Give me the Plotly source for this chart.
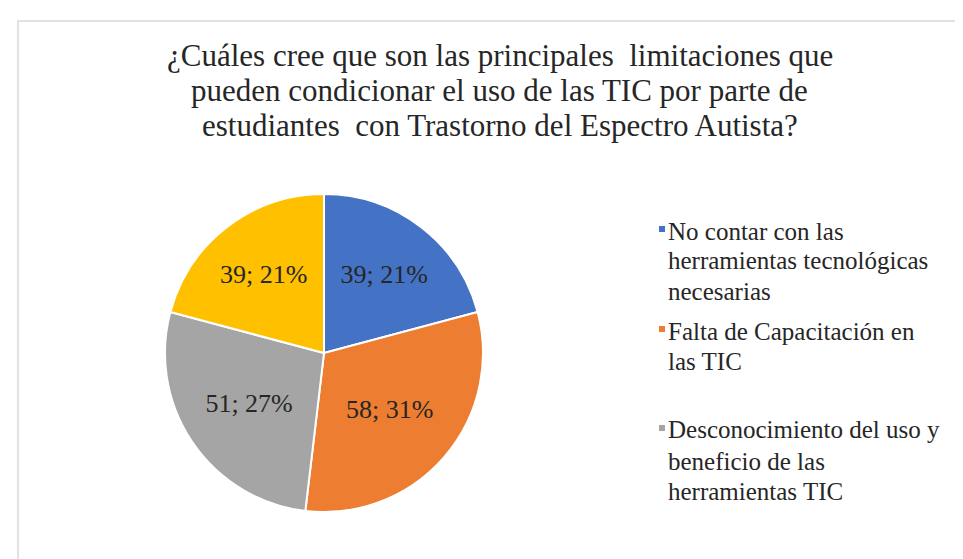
import plotly.graph_objects as go

categories = [
    "No contar con las<br>herramientas tecnológicas<br>necesarias",
    "Falta de Capacitación en<br>las TIC",
    "Desconocimiento del uso y<br>beneficio de las<br>herramientas TIC",
    "Otros",
]
values = [39, 58, 51, 39]
colors = ["#4472C4", "#ED7D31", "#A5A5A5", "#FFC000"]
title_lines = [
    "¿Cuáles cree que son las principales  limitaciones que",
    "pueden condicionar el uso de las TIC por parte de",
    "estudiantes  con Trastorno del Espectro Autista?",
]
legend_shown = 3  # only the first three entries are visible in the reference

W, H = 963, 559


def serif(t):
    return '<span style="font-family:Liberation Serif">' + t + "</span>"


fig = go.Figure()
cx, cy, r = 316, 345, 159
fig.add_trace(go.Pie(
    labels=categories,
    values=values,
    sort=False,
    direction="clockwise",
    marker=dict(colors=colors, line=dict(color="white", width=2)),
    texttemplate=serif("%{value}; %{percent:.0%}"),
    textposition="inside",
    textfont=dict(family="Liberation Serif", size=26, color="#262626"),
    showlegend=False,
    domain=dict(x=[(cx - r) / W, (cx + r) / W],
                y=[(H - cy - r) / H, (H - cy + r) / H]),
))

# title, one line per annotation (baselines ~58, 93, 128 px)
title_mid = [47.5, 82.5, 117.5]
for line, ym in zip(title_lines, title_mid):
    fig.add_annotation(
        text=serif(line), x=492 / W, y=1 - ym / H, xref="paper", yref="paper",
        xanchor="center", yanchor="middle", showarrow=False,
        font=dict(family="Liberation Serif", size=31, color="#262626"),
    )

# chart-area border
fig.add_shape(type="rect", xref="paper", yref="paper",
              x0=10 / W, x1=1.01, y0=-0.01, y1=1 - 13 / H,
              line=dict(color="#D9D9D9", width=1.5), fillcolor="rgba(0,0,0,0)")

# legend drawn as squares + text lines (baselines in px)
legend_baselines = [[232, 262, 292], [332, 362], [431, 462, 492]]
for i in range(legend_shown):
    lines = categories[i].split("<br>")
    b0 = legend_baselines[i][0]
    fig.add_shape(type="rect", xref="paper", yref="paper",
                  x0=651 / W, x1=657 / W,
                  y0=1 - (b0 - 8) / H, y1=1 - (b0 - 14) / H,
                  line=dict(width=0), fillcolor=colors[i])
    for line, b in zip(lines, legend_baselines[i]):
        fig.add_annotation(
            text=serif(line), x=658 / W, y=1 - (b - 9) / H, xref="paper", yref="paper",
            xanchor="left", yanchor="middle", showarrow=False,
            font=dict(family="Liberation Serif", size=25, color="#262626"),
        )

fig.update_layout(
    width=W, height=H,
    margin=dict(l=0, r=0, t=0, b=0),
    paper_bgcolor="white",
)
fig.write_html("out.html")
